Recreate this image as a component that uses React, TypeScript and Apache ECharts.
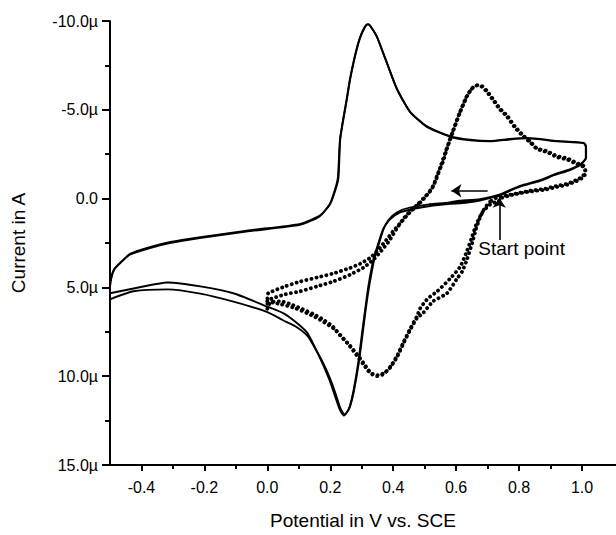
import React, { useEffect, useRef } from "react";
import * as echarts from "echarts";

// Potential (V vs. SCE) / current (µA) pairs
const solidCycle1: number[][] = [
  [0.737, -0.17], [0.676, 0.11], [0.635, 0.22], [0.58, 0.3], [0.527, 0.39], [0.47, 0.56],
  [0.422, 0.78], [0.39, 1.17], [0.368, 1.72], [0.352, 2.56], [0.337, 3.44], [0.321, 4.94],
  [0.311, 6.22], [0.302, 7.44], [0.289, 9.22], [0.273, 10.89], [0.262, 11.7], [0.254, 12.0],
  [0.243, 12.22], [0.235, 12.05], [0.229, 11.83], [0.216, 11.17], [0.2, 10.33], [0.178, 9.39],
  [0.159, 8.67], [0.127, 7.56], [0.09, 6.95], [0.05, 6.45], [0.0, 6.08], [-0.108, 5.33],
  [-0.213, 4.94], [-0.317, 4.72], [-0.425, 5.06], [-0.5, 5.33], [-0.5, 4.94], [-0.494, 4.3],
  [-0.484, 3.9], [-0.467, 3.6], [-0.435, 3.1], [-0.371, 2.72], [-0.308, 2.44], [-0.213, 2.17],
  [-0.054, 1.78], [0.105, 1.42], [0.168, 0.94], [0.2, 0.29], [0.216, -0.47], [0.226, -1.17],
  [0.232, -3.39], [0.253, -5.61], [0.263, -6.7], [0.273, -7.56], [0.284, -8.4], [0.295, -9.06],
  [0.307, -9.55], [0.316, -9.78], [0.322, -9.8], [0.33, -9.65], [0.348, -9.13], [0.364, -8.4],
  [0.38, -7.65], [0.412, -6.17], [0.454, -4.87], [0.507, -4.04], [0.581, -3.48], [0.644, -3.28],
  [0.708, -3.22], [0.771, -3.33], [0.825, -3.39], [0.921, -3.22], [1.006, -3.11], [1.012, -2.9],
  [1.012, -2.28], [0.994, -1.89], [0.962, -1.61], [0.914, -1.33], [0.867, -1.0], [0.803, -0.67],
  [0.737, -0.17],
];

const solidCycle2: number[][] = [
  [0.737, -0.17], [0.676, 0.05], [0.635, 0.15], [0.58, 0.22], [0.527, 0.3], [0.47, 0.45],
  [0.43, 0.62], [0.397, 0.98], [0.373, 1.55], [0.356, 2.45], [0.34, 3.4], [0.324, 4.9],
  [0.313, 6.2], [0.304, 7.45], [0.291, 9.2], [0.275, 10.85], [0.264, 11.65], [0.256, 11.95],
  [0.246, 12.15], [0.238, 12.0], [0.231, 11.75], [0.218, 11.05], [0.202, 10.25], [0.18, 9.35],
  [0.16, 8.68], [0.127, 7.72], [0.09, 7.2], [0.05, 6.85], [0.0, 6.39], [-0.108, 5.8],
  [-0.213, 5.35], [-0.317, 5.11], [-0.425, 5.22], [-0.5, 5.67], [-0.5, 5.0], [-0.495, 4.4],
  [-0.486, 3.98], [-0.469, 3.66], [-0.437, 3.16], [-0.373, 2.78], [-0.31, 2.5], [-0.215, 2.22],
  [-0.056, 1.83], [0.103, 1.48], [0.166, 1.0], [0.198, 0.33], [0.214, -0.45], [0.224, -1.15],
  [0.231, -3.35], [0.252, -5.6], [0.262, -6.68], [0.272, -7.55], [0.283, -8.38], [0.294, -9.05],
  [0.306, -9.55], [0.315, -9.8], [0.321, -9.82], [0.329, -9.68], [0.347, -9.15], [0.363, -8.43],
  [0.379, -7.68], [0.411, -6.2], [0.453, -4.9], [0.506, -4.08], [0.58, -3.52], [0.644, -3.32],
  [0.708, -3.25], [0.771, -3.36], [0.825, -3.42], [0.921, -3.25], [1.006, -3.14], [1.013, -2.92],
  [1.013, -2.3], [0.995, -1.93], [0.963, -1.66], [0.915, -1.38], [0.868, -1.05], [0.803, -0.72],
  [0.737, -0.22], [0.676, 0.03], [0.6, 0.14], [0.527, 0.36], [0.515, 0.3],
];

const dottedCycle1: number[][] = [
  [0.737, 0.11], [0.708, 0.33], [0.683, 0.78], [0.663, 1.5], [0.648, 2.28], [0.632, 3.06],
  [0.613, 3.83], [0.581, 4.5], [0.54, 5.22], [0.511, 5.61], [0.486, 6.17], [0.476, 6.61],
  [0.454, 7.33], [0.432, 8.11], [0.413, 8.83], [0.394, 9.39], [0.375, 9.78], [0.352, 9.94],
  [0.33, 9.83], [0.311, 9.39], [0.295, 9.0], [0.263, 8.28], [0.232, 7.72], [0.209, 7.22],
  [0.175, 6.78], [0.146, 6.5], [0.105, 6.17], [0.073, 5.94], [0.041, 5.78], [0.01, 5.85],
  [0.0, 6.2], [0.0, 5.6], [0.003, 5.33], [0.057, 4.94], [0.105, 4.67], [0.159, 4.44],
  [0.209, 4.22], [0.257, 3.94], [0.295, 3.67], [0.327, 3.33], [0.352, 2.89], [0.378, 2.33],
  [0.4, 1.83], [0.422, 1.39], [0.444, 0.94], [0.463, 0.61], [0.486, 0.22], [0.508, -0.22],
  [0.527, -0.72], [0.54, -1.33], [0.559, -2.11], [0.571, -2.83], [0.59, -3.78], [0.613, -4.89],
  [0.635, -5.78], [0.651, -6.22], [0.667, -6.39], [0.683, -6.33], [0.698, -6.06], [0.717, -5.61],
  [0.74, -5.06], [0.762, -4.67], [0.787, -4.06], [0.813, -3.56], [0.835, -3.22], [0.857, -2.83],
  [0.889, -2.67], [0.921, -2.39], [0.952, -2.28], [0.984, -2.0], [1.006, -1.83], [1.01, -1.56],
  [1.003, -1.28], [0.984, -1.06], [0.952, -0.83], [0.921, -0.72], [0.883, -0.56], [0.835, -0.44],
  [0.803, -0.33], [0.771, -0.22], [0.73, -0.06], [0.708, 0.17],
];

const dottedCycle2: number[][] = [
  [0.708, 0.17], [0.692, 0.5], [0.676, 1.06], [0.663, 1.72], [0.651, 2.5], [0.635, 3.39],
  [0.619, 4.11], [0.603, 4.5], [0.571, 5.33], [0.527, 5.78], [0.495, 6.44], [0.476, 6.72],
  [0.454, 7.39], [0.432, 8.17], [0.413, 8.89], [0.391, 9.5], [0.368, 9.89], [0.349, 10.0],
  [0.327, 9.83], [0.305, 9.33], [0.263, 8.33], [0.216, 7.39], [0.152, 6.67], [0.089, 6.17],
  [0.041, 5.94], [0.01, 5.83], [0.0, 5.78], [0.003, 5.7], [0.057, 5.39], [0.105, 5.22],
  [0.159, 4.94], [0.209, 4.67], [0.263, 4.28], [0.305, 3.89], [0.337, 3.44], [0.362, 2.94],
  [0.387, 2.39], [0.41, 1.72], [0.432, 1.15], [0.454, 0.7], [0.476, 0.35], [0.498, -0.05],
  [0.521, -0.5], [0.537, -1.11], [0.552, -1.89], [0.568, -2.72], [0.587, -3.67], [0.61, -4.78],
  [0.632, -5.7], [0.649, -6.17], [0.665, -6.36], [0.681, -6.3], [0.697, -6.02], [0.716, -5.58],
  [0.739, -5.02], [0.761, -4.63], [0.786, -4.02], [0.812, -3.52], [0.835, -3.17], [0.857, -2.8],
  [0.889, -2.61], [0.921, -2.33], [0.952, -2.2], [0.984, -1.94], [1.006, -1.78], [1.012, -1.5],
  [1.005, -1.22], [0.984, -1.0], [0.952, -0.78], [0.921, -0.66], [0.883, -0.5], [0.835, -0.4],
  [0.803, -0.3], [0.771, -0.18], [0.737, 0.0],
];

const xMajorTicks = [-0.4, -0.2, 0, 0.2, 0.4, 0.6, 0.8, 1.0];
const xMinorTicks = [-0.3, -0.1, 0.1, 0.3, 0.5, 0.7, 0.9];
const xRange = [-0.5, 1.108];
const yRange = [-10, 15];
const yStep = 5;

const scanArrow = [[0.7, -0.44], [0.585, -0.44]];
const startArrow = [[0.737, 2.33], [0.737, -0.05]];
const startLabelAt = [0.808, 2.83];
const startLabel = "Start point";

const FONT = "'Liberation Sans', Arial, Helvetica, sans-serif";
const BLACK = "#000";

export default function App() {
  const ref = useRef<HTMLDivElement>(null);
  useEffect(() => {
    if (!ref.current) return;
    const chart = echarts.init(ref.current, null, { renderer: "svg" });
    const solidStyle = { color: BLACK, width: 1.9 };
    const dotStyle = { color: BLACK, width: 3.8, type: [0.1, 5.0], cap: "round" };
    const option: any = {
      animation: false,
      backgroundColor: "#fff",
      grid: { left: 110, right: 0, top: 21, bottom: 64, containLabel: false },
      xAxis: [
        {
          type: "value",
          min: xRange[0],
          max: xRange[1],
          position: "bottom",
          axisLine: { show: true, onZero: false, lineStyle: { color: BLACK, width: 2 } },
          axisTick: { show: true, customValues: xMajorTicks, length: 6, lineStyle: { color: BLACK, width: 2 } },
          axisLabel: {
            customValues: xMajorTicks,
            formatter: (v: number) => v.toFixed(1),
            fontSize: 16,
            fontFamily: FONT,
            color: BLACK,
            margin: 14,
          },
          splitLine: { show: false },
          name: "Potential in V vs. SCE",
          nameLocation: "middle",
          nameGap: 46,
          nameTextStyle: { fontSize: 19, fontFamily: FONT, color: BLACK },
        },
        {
          type: "value",
          min: xRange[0],
          max: xRange[1],
          position: "bottom",
          axisLine: { show: false, onZero: false },
          axisTick: { show: true, customValues: xMinorTicks, length: 4, lineStyle: { color: BLACK, width: 2 } },
          axisLabel: { show: false },
          splitLine: { show: false },
        },
      ],
      yAxis: {
        type: "value",
        inverse: true,
        min: yRange[0],
        max: yRange[1],
        interval: yStep,
        axisLine: { show: true, onZero: false, lineStyle: { color: BLACK, width: 2 } },
        axisTick: { show: true, length: 8, lineStyle: { color: BLACK, width: 2 } },
        minorTick: { show: true, splitNumber: 2, length: 5, lineStyle: { color: BLACK, width: 2 } },
        splitLine: { show: false },
        minorSplitLine: { show: false },
        axisLabel: {
          formatter: (v: number) => (v === 0 ? "0.0" : v.toFixed(1) + "µ"),
          fontSize: 16,
          fontFamily: FONT,
          color: BLACK,
          margin: 12,
        },
        name: "Current in A",
        nameLocation: "middle",
        nameGap: 82,
        nameRotate: 90,
        nameTextStyle: { fontSize: 19, fontFamily: FONT, color: BLACK },
      },
      series: [
        {
          type: "line",
          data: solidCycle1,
          symbol: "none",
          showSymbol: false,
          smooth: 0.2,
          lineStyle: solidStyle,
          silent: true,
          markLine: {
            silent: true,
            symbol: ["none", "arrow"],
            symbolSize: 10,
            label: { show: false },
            lineStyle: { color: BLACK, width: 1.6, type: "solid" },
            itemStyle: { color: BLACK },
            emphasis: { disabled: true },
            data: [
              [{ coord: scanArrow[0] }, { coord: scanArrow[1] }],
              [{ coord: startArrow[0] }, { coord: startArrow[1] }],
            ],
          },
        },
        { type: "line", data: solidCycle2, symbol: "none", showSymbol: false, smooth: 0.2, lineStyle: solidStyle, silent: true },
        { type: "line", data: dottedCycle1, symbol: "none", showSymbol: false, smooth: 0.2, lineStyle: dotStyle, silent: true },
        { type: "line", data: dottedCycle2, symbol: "none", showSymbol: false, smooth: 0.2, lineStyle: dotStyle, silent: true },
      ],
    };
    chart.setOption(option);
    const p = chart.convertToPixel({ seriesIndex: 0 }, startLabelAt) as number[];
    chart.setOption({
      graphic: [
        {
          type: "text",
          x: p[0],
          y: p[1],
          silent: true,
          style: {
            text: startLabel,
            fontSize: 19,
            fontFamily: FONT,
            fill: BLACK,
            align: "center",
            verticalAlign: "middle",
          },
        },
      ],
    });
    return () => chart.dispose();
  }, []);
  return (
    <div
      ref={ref}
      style={{ position: "absolute", left: 0, top: 0, width: 616, height: 535, background: "#fff" }}
    />
  );
}
